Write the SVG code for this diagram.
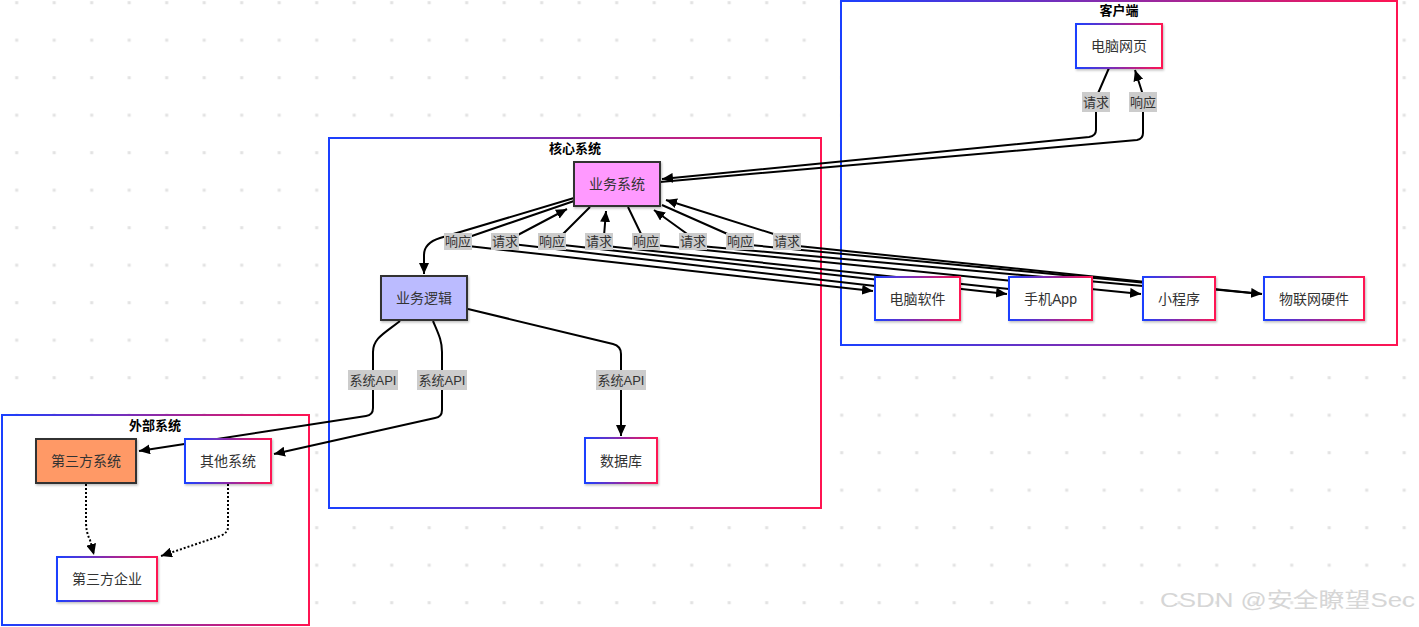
<svg xmlns="http://www.w3.org/2000/svg" width="1419" height="627" viewBox="0 0 1419 627">
<style>
text{font-family:"Liberation Sans","Noto Sans CJK SC",sans-serif;fill:#333;text-anchor:middle;dominant-baseline:central}
.title{font-size:13px;font-weight:bold;fill:#000}
.nt{font-size:14px}
.lt{font-size:13px}
.cont{fill:#fff;stroke:url(#g);stroke-width:2}
.node{fill:#fff;stroke:url(#g);stroke-width:2;filter:url(#sh)}
.dark{stroke:#333;stroke-width:2;filter:url(#sh)}
.e{fill:none;stroke:#000;stroke-width:2;stroke-linejoin:round;marker-end:url(#ah)}
.dot{fill:none;stroke:#000;stroke-width:2;stroke-dasharray:2 2;marker-end:url(#ah)}
.lb{fill:#cccccc}
</style>
<defs>
<linearGradient id="g" x1="0" y1="0" x2="1" y2="0">
<stop offset="0" stop-color="#1a40ff"/>
<stop offset="1" stop-color="#ff1452"/>
</linearGradient>
<pattern id="grid" patternUnits="userSpaceOnUse" x="0" y="0" width="37.5" height="37.5">
<rect x="15.2" y="1.2" width="3" height="3" fill="#e2e2e2"/>
</pattern>
<filter id="sh" x="-10%" y="-10%" width="130%" height="140%">
<feDropShadow dx="1" dy="1.5" stdDeviation="1" flood-color="#000" flood-opacity="0.25"/>
</filter>
<marker id="ah" viewBox="0 0 11 10" refX="11" refY="5" markerWidth="11" markerHeight="10" markerUnits="userSpaceOnUse" orient="auto">
<path d="M0,0 L11,5 L0,10 z" fill="#000" stroke="none"/>
</marker>
</defs>
<rect width="1419" height="627" fill="#fff"/>
<rect width="1419" height="627" fill="url(#grid)"/>

<g id="cluster-client">
<rect class="cont" x="841" y="1" width="556" height="344"/>
<text class="title" x="1119" y="10">客户端</text>
</g>
<g id="cluster-core">
<rect class="cont" x="329" y="138" width="492" height="370"/>
<text class="title" x="575" y="148">核心系统</text>
</g>
<g id="cluster-external">
<rect class="cont" x="2" y="415" width="307" height="210"/>
<text class="title" x="155" y="425">外部系统</text>
</g>

<g id="connectors">
<path class="e" d="M1109,68 L1096,98 L1096,130 Q1096,136 1089,137 L662,179"/>
<path class="e" d="M660,182 L1137,140 Q1143,139 1143,133 L1143,95 L1135,70"/>
<path class="e" d="M574,198 L440,238 Q424,243 424,255 L424,274"/>
<path class="e" d="M574,201 L466,238 L468,246 L873,291"/>
<path class="e" d="M875,286 L512,244 L514,237 L567,209"/>
<path class="e" d="M590,207 L560,237 L563,245 L1007,294"/>
<path class="e" d="M1009,289 L606,246 L604,236 L606,211"/>
<path class="e" d="M628,207 L642,236 L655,245 L1141,294"/>
<path class="e" d="M1143,286 L700,246 L690,236 L654,210"/>
<path class="e" d="M662,205 L732,236 L750,245 L1262,294"/>
<path class="e" d="M1262,294 L798,246 L780,236 L666,200"/>
<path class="e" d="M400,321 C385,333 373,338 373,352 L373,408 Q373,415 366,416 L139,451"/>
<path class="e" d="M433,321 C438,333 442,340 442,352 L442,410 Q442,417 435,418 L274,454"/>
<path class="e" d="M468,309 L613,344 Q621,346 621,354 L621,436"/>
<path class="dot" d="M86,484 L86,522 Q86,532 90,540 L94,555"/>
<path class="dot" d="M228,484 L228,527 Q228,533 220,536 L161,556"/>
<g id="edge-labels">
<rect class="lb" x="1082" y="92" width="28" height="20"/><text class="lt" x="1096" y="102">请求</text>
<rect class="lb" x="1129" y="92" width="28" height="20"/><text class="lt" x="1143" y="102">响应</text>
<rect class="lb" x="444" y="233" width="28" height="17"/><text class="lt" x="458" y="241.5">响应</text>
<rect class="lb" x="491" y="233" width="28" height="17"/><text class="lt" x="505" y="241.5">请求</text>
<rect class="lb" x="538" y="233" width="28" height="17"/><text class="lt" x="552" y="241.5">响应</text>
<rect class="lb" x="585" y="233" width="28" height="17"/><text class="lt" x="599" y="241.5">请求</text>
<rect class="lb" x="632" y="233" width="28" height="17"/><text class="lt" x="646" y="241.5">响应</text>
<rect class="lb" x="679" y="233" width="28" height="17"/><text class="lt" x="693" y="241.5">请求</text>
<rect class="lb" x="726" y="233" width="28" height="17"/><text class="lt" x="740" y="241.5">响应</text>
<rect class="lb" x="773" y="233" width="28" height="17"/><text class="lt" x="787" y="241.5">请求</text>
<rect class="lb" x="348" y="370" width="50" height="20"/><text class="lt" x="373" y="380">系统API</text>
<rect class="lb" x="417" y="370" width="50" height="20"/><text class="lt" x="442" y="380">系统API</text>
<rect class="lb" x="596" y="370" width="50" height="20"/><text class="lt" x="621" y="380">系统API</text>
</g>
</g>

<g id="n-web"><rect class="node" x="1076" y="24" width="86" height="44"/><text class="nt" x="1119" y="46">电脑网页</text></g>
<g id="n-biz"><rect class="dark" x="574" y="162" width="86" height="44" fill="#ff99ff"/><text class="nt" x="617" y="184">业务系统</text></g>
<g id="n-logic"><rect class="dark" x="381" y="276" width="86" height="44" fill="#bbbbff"/><text class="nt" x="424" y="298">业务逻辑</text></g>
<g id="n-db"><rect class="node" x="585" y="438" width="72" height="45"/><text class="nt" x="621" y="461">数据库</text></g>
<g id="n-pc"><rect class="node" x="875" y="277" width="85" height="43"/><text class="nt" x="917.5" y="298.5">电脑软件</text></g>
<g id="n-app"><rect class="node" x="1009" y="277" width="83" height="43"/><text class="nt" x="1050.5" y="298.5">手机App</text></g>
<g id="n-mini"><rect class="node" x="1143" y="277" width="72" height="43"/><text class="nt" x="1179" y="298.5">小程序</text></g>
<g id="n-iot"><rect class="node" x="1264" y="277" width="100" height="43"/><text class="nt" x="1314" y="298.5">物联网硬件</text></g>
<g id="n-third"><rect class="dark" x="36" y="439" width="100" height="44" fill="#ff9966"/><text class="nt" x="86" y="461">第三方系统</text></g>
<g id="n-other"><rect class="node" x="185" y="439" width="86" height="44"/><text class="nt" x="228" y="461">其他系统</text></g>
<g id="n-ent"><rect class="node" x="57" y="557" width="100" height="44"/><text class="nt" x="107" y="579">第三方企业</text></g>

<text x="1160" y="607" style="font-size:21px;fill:#d6d6d6;text-anchor:start;dominant-baseline:alphabetic" textLength="255" lengthAdjust="spacingAndGlyphs">CSDN @安全瞭望Sec</text>
</svg>
